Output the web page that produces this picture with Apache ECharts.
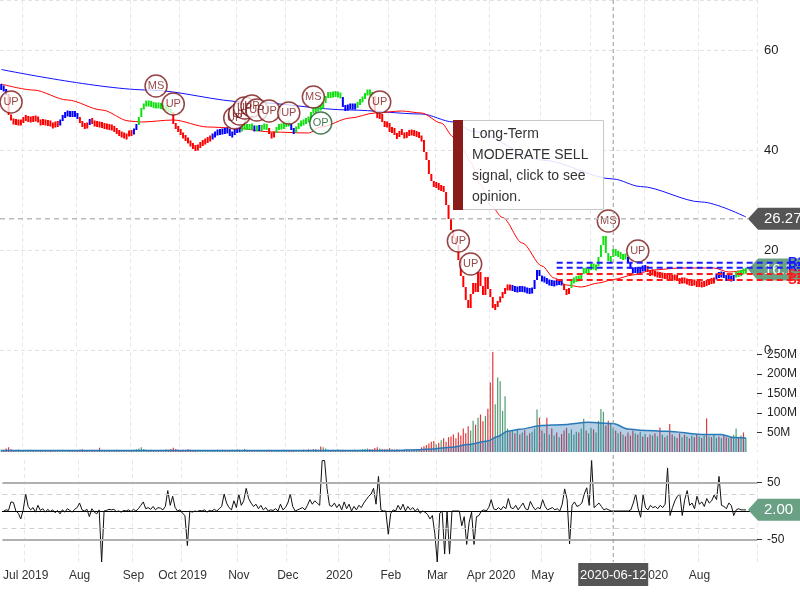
<!DOCTYPE html>
<html>
<head>
<meta charset="utf-8">
<title>Price chart</title>
<script src="https://cdn.jsdelivr.net/npm/echarts@6/dist/echarts.min.js"></script>
<style>
  html, body { margin: 0; padding: 0; background: #fff; }
  #chart { width: 800px; height: 600px; }
</style>
</head>
<body>
<div id="chart"></div>
<script>
// trading days start here; holidays are skipped
const startDate = "2019-06-18";
const padDays = 4; // empty slots after the last bar
const holidays = ["2019-07-04", "2019-09-02", "2019-11-28", "2019-12-25", "2020-01-01",
  "2020-01-20", "2020-02-17", "2020-04-10", "2020-05-25", "2020-07-03"];

// daily closes
const closes = [
  52.6,52.0,51.2,47.0,46.0,45.4,45.8,45.2,45.8,46.2,
  46.6,45.8,46.4,46.0,46.6,45.6,45.4,45.8,45.2,45.6,
  45.0,44.8,45.4,45.0,46.0,46.8,47.2,47.4,47.0,47.4,
  47.0,46.6,45.4,45.0,44.6,45.2,46.0,45.6,45.0,45.4,
  44.8,45.2,44.4,45.0,44.2,44.8,43.6,44.0,42.8,43.4,
  42.4,43.0,43.6,43.2,44.2,45.0,46.6,48.4,49.0,49.6,
  49.0,49.4,48.6,49.2,48.6,49.0,48.2,48.6,47.8,47.6,
  45.2,44.4,44.0,43.2,42.6,42.2,41.6,41.0,40.6,40.2,
  40.8,41.2,41.6,41.8,42.2,42.4,43.0,43.2,43.8,43.4,
  44.0,43.6,44.2,42.8,43.4,43.8,44.2,44.0,44.6,44.8,
  44.4,44.8,44.6,44.0,44.6,44.2,44.6,44.8,44.4,43.2,
  42.6,43.6,44.4,44.8,44.6,45.0,45.4,45.2,44.0,43.6,
  44.6,45.0,45.6,45.4,46.2,46.0,47.6,48.2,48.0,48.6,
  48.4,49.4,50.8,51.2,50.8,51.4,51.0,51.2,50.6,48.6,
  48.2,48.8,48.6,48.8,48.6,49.4,49.8,50.4,51.2,51.8,
  51.2,50.8,47.6,46.4,47.2,45.6,44.8,45.4,43.6,44.4,
  43.0,42.6,43.8,43.4,42.4,43.6,43.2,43.8,43.0,43.4,
  42.6,42.0,39.6,38.0,35.2,33.8,32.6,33.4,32.0,32.8,
  31.6,29.0,26.2,24.0,22.4,21.0,18.0,14.8,12.6,10.0,
  8.4,11.2,13.4,11.6,15.6,12.8,11.0,14.6,12.2,10.6,
  8.4,8.8,9.6,10.6,11.4,12.2,12.8,12.2,12.6,11.8,
  12.4,12.0,12.4,11.8,12.0,11.6,12.2,14.0,16.0,14.8,
  13.8,14.4,13.2,13.8,13.0,13.6,13.4,13.8,13.2,12.0,
  11.2,12.4,13.8,14.0,14.4,14.2,15.2,16.4,15.4,16.0,
  17.2,16.2,16.8,18.6,21.0,22.8,19.4,17.8,18.6,20.2,
  18.8,19.6,18.2,19.0,18.4,17.6,16.2,15.6,16.4,15.4,
  16.6,16.0,16.8,15.6,15.2,15.8,14.8,15.4,14.6,15.2,
  14.4,15.0,14.6,14.2,14.8,14.0,13.6,14.2,13.6,13.8,
  13.2,13.6,13.4,13.0,13.4,12.8,13.6,13.2,14.0,13.6,
  14.2,15.2,14.8,15.4,14.6,14.2,14.6,14.0,14.8,15.4,
  15.0,15.8,15.6,16.1
];

// trend state runs: r = sell, b = neutral, g = buy
const trendRuns = [
  ["b",3],["r",21],["b",8],["r",4],["b",1],["r",17],["b",2],["g",14],["r",16],["b",12],
  ["g",5],["b",1],["g",1],["b",1],["g",3],["r",3],["g",6],["b",2],["g",19],["b",6],
  ["g",7],["r",56],["b",21],["r",3],["g",23],["b",8],["r",28],["b",8],["g",5]
];

// daily volume, millions
const volumes = [
  6,5,9,12,7,5,4,6,5,4, 5,4,6,3,5,4,4,5,3,4, 4,5,3,4,5,6,4,5,4,3, 4,5,6,7,5,4,5,6,5,4,
  11,5,4,5,4,3,5,6,5,4, 5,4,5,4,6,7,9,12,8,6, 5,6,5,4,5,6,5,7,6,8, 11,8,6,5,6,5,7,6,5,4,
  5,4,5,4,5,4,5,4,6,5, 6,5,4,5,6,5,7,6,5,8, 6,5,4,5,4,5,4,5,4,6, 5,4,5,4,5,6,5,4,5,4,
  5,4,5,6,5,7,6,8,7,6, 14,12,9,6,5,6,5,7,5,6, 5,4,5,4,6,5,6,7,8,9, 8,7,10,12,9,8,7,8,10,7,
  6,7,6,5,6,7,6,5,6,7, 8,12,15,18,22,26,28,20,24,30, 35,26,38,40,45,35,50,42,60,48,
  66,55,80,70,88,96,79,92,111,178, 258,122,191,181,105,143,60,52,55,48,
  58,45,50,56,42,48,52,60,109,88, 55,48,88,45,60,42,50,38,46,55,
  62,48,58,45,52,50,60,85,55,48, 62,58,50,80,110,103,68,80,75,60,
  55,48,52,45,40,50,42,55,48,45, 52,40,46,38,45,42,48,40,63,44,
  38,42,72,45,40,36,48,38,44,40, 35,42,38,45,40,36,42,86,40,38,
  45,36,40,35,42,38,36,40,44,60, 38,42,50,36
];

// lower panel oscillator
const oscillator = [
  0,2,1,16,15,0,-4,-14,2,30, 8,2,6,-2,10,1,4,-2,3,-1, 2,-3,1,-5,2,-2,4,1,-2,3,
  6,14,2,0,3,-10,4,-2,-5,2, -90,0,1,3,2,3,-1,0,-2,1, 0,2,-1,3,0,4,10,16,4,6,
  3,8,2,6,5,2,8,36,10,26, 6,0,2,-4,-8,-61,0,-2,0,-1, 1,0,2,-2,1,0,3,0,4,8,
  30,14,6,2,18,6,30,10,18,40, 22,14,8,12,4,10,2,6,0,2, 1,4,0,12,2,6,14,30,8,0,
  2,4,6,2,10,20,12,18,14,10, 89,89,40,10,8,14,6,12,2,16, 4,12,0,8,2,10,6,14,20,26,
  30,40,12,61,2,0,0,-41,-4,2, 0,10,2,12,0,8,2,6,0,4, -4,0,-2,-6,-14,-8,-40,-90,-4,0,
  -76,0,-76,0,0,0,0,-26,-10,-59, -20,-2,-59,-10,-8,0,2,0,6,20, 4,2,6,2,8,4,22,6,4,10,
  2,8,14,4,2,17,8,2,6,4, 20,8,2,4,6,2,4,0,12,39, 20,-58,10,16,8,10,14,30,41,10,
  89,6,10,14,8,2,4,2,0,0, 0,0,0,0,0,0,2,14,30,4, -11,28,6,2,10,6,8,4,10,6,
  12,76,-8,6,18,26,30,-8,20,36, 10,14,4,26,12,16,8,22,14,18, 28,20,61,10,8,4,14,10,-8,2,
  4,2,2,2
];

// moving averages: [day index, value]
const longMA = [[0,56.1],[60,52.0],[100,49.6],[142,48.0],[171,47.2],[184,45.6],[192,43.7],
  [220,38.0],[249,34.2],[260,32.7],[285,29.6],[303,26.6]];
const shortMA = [[0,53.2],[13,52.0],[27,50.0],[41,48.0],[52,45.8],[57,45.6],[70,46.0],[84,44.6],
  [95,44.4],[110,43.6],[125,43.4],[130,44.6],[142,46.4],[152,47.4],[163,47.8],[171,47.4],
  [179,45.4],[184,42.6],[188,40.0],[191,37.5],[195,33.0],[199,29.0],[204,26.5],[212,21.4],
  [220,16.8],[225,14.4],[230,13.0],[236,12.6],[243,13.4],[249,14.1],[257,15.0],[265,16.0],
  [276,16.4],[290,16.4],[296,15.6],[303,16.0]];
const volumeMA = [[0,4],[160,4],[170,6],[176,8],[183,12],[190,19],[198,28],[202,40],[206,53],
  [211,58],[220,68],[228,70],[239,76],[249,73],[255,59],[260,56],[271,53],[285,45],[293,45],
  [298,37],[303,36]];

// signal markers: [day index, price, tag]
const signals = [[4,49.6,"UP"],[63,52.8,"MS"],[70,49.2,"UP"],[95,46.4,"UP"],[97,47.2,"UP"],
  [99,48.4,"UP"],[102,48.8,"UP"],[104,48.0,"UP"],[109,47.8,"UP"],[117,47.4,"UP"],
  [127,50.6,"MS"],[130,45.4,"OP"],[154,49.6,"UP"],[186,21.8,"UP"],[191,17.2,"UP"],
  [247,25.8,"MS"],[259,19.8,"UP"]];

// support / resistance
const levelNames = ["R2", "R1", "S1", "S2"];
const levelValues = [17.46, 16.46, 15.2, 14.0];
const levelStart = 226;

const monthTicks = ["2019-07-01","2019-08-01","2019-09-03","2019-10-01","2019-11-01","2019-12-02",
  "2020-01-02","2020-02-03","2020-03-02","2020-04-01","2020-05-01","2020-06-01","2020-07-01","2020-08-03"];
const monthLabels = ["Jul 2019","Aug","Sep","Oct 2019","Nov","Dec","2020","Feb","Mar","Apr 2020",
  "May","Jun","Jul 2020","Aug"];
const volumeTicks = [50, 100, 150, 200, 250];
const oscTicks = [-50, 50];

const crossDate = "2020-06-12";
const crossPrice = 26.27;
const signalText = "Long-Term\nMODERATE SELL\nsignal, click to see\nopinion.";

function tradingDays(start, count) {
  const out = [];
  const d = new Date(start + "T00:00:00Z");
  while (out.length < count) {
    const wd = d.getUTCDay();
    const s = d.toISOString().slice(0, 10);
    if (wd !== 0 && wd !== 6 && holidays.indexOf(s) < 0) out.push(s);
    d.setUTCDate(d.getUTCDate() + 1);
  }
  return out;
}

const dates = tradingDays(startDate, closes.length + padDays);
const crossIdx = dates.indexOf(crossDate);
const tickLabel = {};
monthTicks.forEach((d, i) => { tickLabel[d] = monthLabels[i]; });
const isTick = (i, v) => tickLabel[v] !== undefined;

const trend = [];
trendRuns.forEach(([c, n]) => { for (let k = 0; k < n; k++) trend.push(c); });
const trendColor = { r: "#ff0000", b: "#0000ff", g: "#11e011" };
const trendCode = "rbg";

const barData = closes.map((c, i) => {
  const o = i ? closes[i - 1] : c;
  return [i, Math.min(o, c), Math.max(o, c), trendCode.indexOf(trend[i])];
});

const volData = volumes.map((v, i) => ({
  value: v,
  itemStyle: { color: i && closes[i] < closes[i - 1] ? "#e23a3a" : "#4f9d74" }
}));

function withDot(arr, size) {
  return arr.map(p => p[0] === crossIdx
    ? { value: p, symbol: "circle", symbolSize: size }
    : { value: p });
}

const font = "Liberation Sans, Arial, sans-serif";
const gridL = 0, gridR = 43;

const chart = echarts.init(document.getElementById("chart"));

function xAxisFor(grid, showLabel) {
  return {
    type: "category", gridIndex: grid, data: dates, boundaryGap: true,
    axisLine: { show: showLabel, lineStyle: { color: "#000" } },
    axisTick: { show: false },
    axisLabel: {
      show: showLabel, interval: isTick, formatter: v => tickLabel[v] || "",
      color: "#333", fontSize: 12, fontFamily: font, margin: 8
    },
    splitLine: { show: true, interval: isTick, lineStyle: { color: "#e8e8e8", type: [4, 3] } }
  };
}

const option = {
  animation: false,
  textStyle: { fontFamily: font },
  grid: [
    { left: gridL, right: gridR, top: 0, height: 350 },
    { left: gridL, right: gridR, top: 352, height: 100 },
    { left: gridL, right: gridR, top: 460, height: 102 }
  ],
  xAxis: [xAxisFor(0, false), xAxisFor(1, false), xAxisFor(2, true)],
  yAxis: [
    {
      type: "value", gridIndex: 0, position: "right", min: 0, max: 70, interval: 20,
      axisLine: { show: false }, axisTick: { show: false },
      axisLabel: { color: "#222", fontSize: 13, margin: 7, showMaxLabel: false },
      splitLine: { lineStyle: { color: "#e2e2e2", type: [4, 3] } }
    },
    {
      type: "value", gridIndex: 1, position: "right", min: 0, max: 256,
      axisLine: { show: false },
      axisTick: { show: true, length: 5, customValues: volumeTicks, lineStyle: { color: "#333" } },
      axisLabel: { color: "#222", fontSize: 12, margin: 10, customValues: volumeTicks,
        formatter: v => v + "M" },
      splitLine: { show: false }
    },
    {
      type: "value", gridIndex: 2, position: "right", min: -90, max: 90,
      axisLine: { show: false },
      axisTick: { show: true, length: 5, customValues: oscTicks, lineStyle: { color: "#333" } },
      axisLabel: { color: "#222", fontSize: 12, margin: 10, customValues: oscTicks },
      splitLine: { show: false }
    }
  ],
  series: [
    {
      type: "line", xAxisIndex: 0, yAxisIndex: 0, data: withDot(longMA, 6),
      symbol: "none", smooth: 0.3, smoothMonotone: "x",
      lineStyle: { color: "#1010ff", width: 1 }, itemStyle: { color: "#1010ff" }, z: 3
    },
    {
      type: "line", xAxisIndex: 0, yAxisIndex: 0, data: withDot(shortMA, 7),
      symbol: "none", smooth: 0.3, smoothMonotone: "x",
      lineStyle: { color: "#ff0000", width: 1 }, itemStyle: { color: "#ee0000" }, z: 3
    },
    {
      type: "custom", xAxisIndex: 0, yAxisIndex: 0, data: barData,
      encode: { x: 0, y: [1, 2] }, z: 4,
      renderItem(params, api) {
        const i = api.value(0);
        const lo = api.coord([i, api.value(1)]);
        const hi = api.coord([i, api.value(2)]);
        let y = hi[1], h = lo[1] - hi[1];
        if (h < 6) { y -= (6 - h) / 2; h = 6; }
        return {
          type: "rect",
          shape: { x: hi[0] - 1, y: y, width: 2, height: h },
          style: { fill: trendColor[trendCode[api.value(3)]] }
        };
      }
    },
    {
      type: "scatter", xAxisIndex: 0, yAxisIndex: 0, z: 6,
      symbol: "circle", symbolSize: 22,
      data: signals.map(s => {
        const c = s[2] === "OP" ? "#1d5a2a" : "#7a1414";
        return {
          value: [s[0], s[1]], name: s[2],
          itemStyle: { color: "rgba(255,255,255,0.95)", borderColor: c, borderWidth: 1.5 },
          label: { color: c }
        };
      }),
      label: { show: true, position: "inside", formatter: "{b}", fontSize: 11, fontFamily: font }
    },
    {
      type: "bar", xAxisIndex: 1, yAxisIndex: 1, data: volData, barWidth: 1.2, z: 2
    },
    {
      type: "line", xAxisIndex: 1, yAxisIndex: 1, data: withDot(volumeMA, 7),
      symbol: "none", smooth: 0.3, smoothMonotone: "x", z: 3,
      lineStyle: { color: "#2a78b8", width: 1.5 }, itemStyle: { color: "#2a78b8" },
      areaStyle: { color: "rgba(42,120,184,0.5)" }
    },
    {
      type: "line", xAxisIndex: 2, yAxisIndex: 2, data: oscillator,
      symbol: "none", lineStyle: { color: "#111", width: 1 }, z: 3,
      markLine: {
        silent: true, symbol: ["none", "none"], label: { show: false },
        data: [
          { yAxis: 50, lineStyle: { color: "#b0b0b0", width: 2, type: "solid" } },
          { yAxis: -50, lineStyle: { color: "#b0b0b0", width: 2, type: "solid" } },
          { yAxis: 30, lineStyle: { color: "#d0d0d0", width: 1, type: [5, 4] } },
          { yAxis: -30, lineStyle: { color: "#d0d0d0", width: 1, type: [5, 4] } }
        ]
      }
    }
  ]
};

chart.setOption(option);

// overlay: crosshair, value tags, levels, signal box
const W = 800;
const gridRight = W - gridR;
const px = (g, i, v) => chart.convertToPixel({ gridIndex: g }, [i, v]);

function arrowTag(y, text, color) {
  const tip = gridRight - 9;
  return [
    { type: "polygon", z: 100,
      shape: { points: [[tip, y], [tip + 10, y - 11], [W, y - 11], [W, y + 11], [tip + 10, y + 11]] },
      style: { fill: color } },
    { type: "text", z: 101, x: tip + 16, y: y,
      style: { text: text, fill: "#fff", font: "15px " + font, verticalAlign: "middle" } }
  ];
}

const crossX = px(0, crossIdx, 0)[0];
const crossY = px(0, 0, crossPrice)[1];
const lastIdx = closes.length - 1;
const g = [];

g.push({ type: "line", z: 90, shape: { x1: crossX, y1: 0, x2: crossX, y2: 562 },
  style: { stroke: "#999", lineWidth: 1, lineDash: [4, 3] } });
g.push({ type: "line", z: 90, shape: { x1: 0, y1: crossY, x2: gridRight - 9, y2: crossY },
  style: { stroke: "#bbb", lineWidth: 1.5, lineDash: [5, 4] } });

g.push(...arrowTag(crossY, String(crossPrice), "#555"));
g.push(...arrowTag(px(0, lastIdx, closes[lastIdx])[1], String(closes[lastIdx]), "#6aa084"));
g.push(...arrowTag(px(2, lastIdx, oscillator[lastIdx])[1], oscillator[lastIdx].toFixed(2), "#6aa084"));

levelValues.forEach((v, k) => {
  const col = levelNames[k][0] === "R" ? "#1a1aff" : "#ff1a1a";
  const p = px(0, levelStart, v);
  g.push({ type: "line", z: 110, shape: { x1: p[0], y1: p[1], x2: W, y2: p[1] },
    style: { stroke: col, lineWidth: 2, lineDash: [6, 4] } });
  g.push({ type: "text", z: 111, x: 788, y: p[1],
    style: { text: levelNames[k], fill: col, font: "bold 13px " + font, verticalAlign: "middle" } });
});

g.push({ type: "rect", z: 100, shape: { x: crossX - 35, y: 563, width: 70, height: 23 },
  style: { fill: "#555" } });
g.push({ type: "text", z: 101, x: crossX, y: 575,
  style: { text: crossDate, fill: "#fff", font: "13px " + font, align: "center", verticalAlign: "middle" } });

g.push({ type: "rect", z: 120, shape: { x: 453.5, y: 120.5, width: 150, height: 89 },
  style: { fill: "rgba(255,255,255,0.88)", stroke: "#c8c8c8", lineWidth: 1 } });
g.push({ type: "rect", z: 121, shape: { x: 453, y: 120, width: 10, height: 90 },
  style: { fill: "#8b1a1a" } });
g.push({ type: "text", z: 122, x: 472, y: 124,
  style: { text: signalText, fill: "#333", font: "14px " + font, lineHeight: 21 } });

chart.setOption({ graphic: g });
</script>
</body>
</html>
